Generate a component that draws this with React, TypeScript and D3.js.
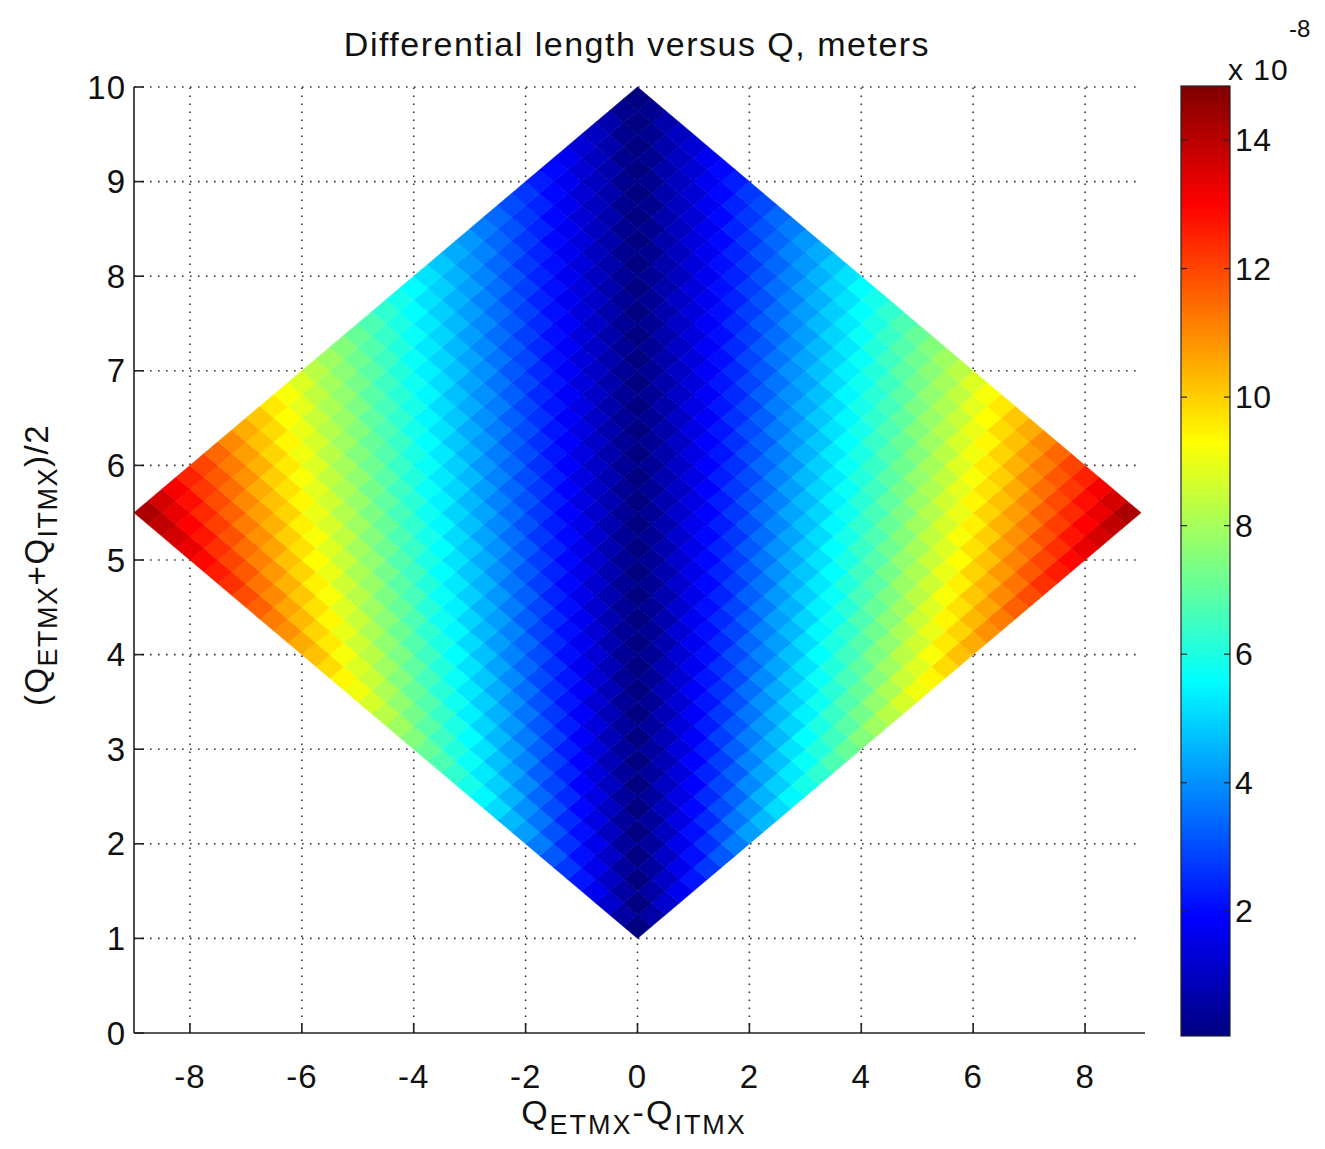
import * as d3 from "d3";

// Q grid edges (same for ETMX and ITMX), step 0.25 from 1 to 10
const qEdges = d3.range(0, 37).map(k => 1 + k * 0.25);

// differential length (x 1e-8 m), upper triangle: row = Q_ETMX cell i, entries = Q_ITMX cells j >= i
// (the map is symmetric in ETMX <-> ITMX, so the other half is the mirror)
const diffLengthUpper = [
  [0, 0.6, 1.2, 1.7, 2.2, 2.7, 3.2, 3.7, 4.2, 4.6, 5.1, 5.5, 5.9, 6.3, 6.7, 7.1, 7.5, 7.9, 8.3, 8.7, 9.1, 9.4, 9.8, 10.2, 10.5, 10.9, 11.2, 11.6, 11.9, 12.3, 12.6, 12.9, 13.3, 13.6, 13.9, 14.2],
  [0, 0.6, 1.1, 1.6, 2.1, 2.6, 3.1, 3.6, 4.0, 4.5, 4.9, 5.3, 5.7, 6.1, 6.5, 6.9, 7.3, 7.7, 8.1, 8.5, 8.8, 9.2, 9.6, 9.9, 10.3, 10.6, 11.0, 11.3, 11.7, 12.0, 12.3, 12.7, 13.0, 13.3, 13.6],
  [0, 0.5, 1.1, 1.6, 2.1, 2.5, 3.0, 3.4, 3.9, 4.3, 4.7, 5.2, 5.6, 6.0, 6.4, 6.8, 7.1, 7.5, 7.9, 8.3, 8.6, 9.0, 9.4, 9.7, 10.1, 10.4, 10.8, 11.1, 11.4, 11.8, 12.1, 12.4, 12.8, 13.1],
  [0, 0.5, 1.0, 1.5, 2.0, 2.5, 2.9, 3.3, 3.8, 4.2, 4.6, 5.0, 5.4, 5.8, 6.2, 6.6, 7.0, 7.4, 7.7, 8.1, 8.5, 8.8, 9.2, 9.5, 9.9, 10.2, 10.6, 10.9, 11.2, 11.6, 11.9, 12.2, 12.5],
  [0, 0.5, 1.0, 1.5, 1.9, 2.4, 2.8, 3.3, 3.7, 4.1, 4.5, 4.9, 5.3, 5.7, 6.1, 6.5, 6.8, 7.2, 7.6, 7.9, 8.3, 8.6, 9.0, 9.3, 9.7, 10.0, 10.4, 10.7, 11.0, 11.4, 11.7, 12.0],
  [0, 0.5, 1.0, 1.4, 1.9, 2.3, 2.8, 3.2, 3.6, 4.0, 4.4, 4.8, 5.2, 5.6, 6.0, 6.3, 6.7, 7.1, 7.4, 7.8, 8.1, 8.5, 8.8, 9.2, 9.5, 9.9, 10.2, 10.5, 10.9, 11.2, 11.5],
  [0, 0.5, 0.9, 1.4, 1.8, 2.3, 2.7, 3.1, 3.5, 3.9, 4.3, 4.7, 5.1, 5.5, 5.8, 6.2, 6.6, 6.9, 7.3, 7.7, 8.0, 8.4, 8.7, 9.0, 9.4, 9.7, 10.0, 10.4, 10.7, 11.0],
  [0, 0.5, 0.9, 1.4, 1.8, 2.2, 2.6, 3.0, 3.4, 3.8, 4.2, 4.6, 5.0, 5.4, 5.7, 6.1, 6.5, 6.8, 7.2, 7.5, 7.9, 8.2, 8.6, 8.9, 9.2, 9.6, 9.9, 10.2, 10.5],
  [0, 0.5, 0.9, 1.3, 1.8, 2.2, 2.6, 3.0, 3.4, 3.8, 4.2, 4.5, 4.9, 5.3, 5.6, 6.0, 6.4, 6.7, 7.1, 7.4, 7.8, 8.1, 8.4, 8.8, 9.1, 9.4, 9.8, 10.1],
  [0, 0.4, 0.9, 1.3, 1.7, 2.1, 2.5, 2.9, 3.3, 3.7, 4.1, 4.5, 4.8, 5.2, 5.6, 5.9, 6.3, 6.6, 7.0, 7.3, 7.7, 8.0, 8.3, 8.7, 9.0, 9.3, 9.6],
  [0, 0.4, 0.9, 1.3, 1.7, 2.1, 2.5, 2.9, 3.3, 3.6, 4.0, 4.4, 4.8, 5.1, 5.5, 5.8, 6.2, 6.5, 6.9, 7.2, 7.5, 7.9, 8.2, 8.5, 8.9, 9.2],
  [0, 0.4, 0.8, 1.3, 1.7, 2.1, 2.4, 2.8, 3.2, 3.6, 4.0, 4.3, 4.7, 5.0, 5.4, 5.7, 6.1, 6.4, 6.8, 7.1, 7.5, 7.8, 8.1, 8.4, 8.8],
  [0, 0.4, 0.8, 1.2, 1.6, 2.0, 2.4, 2.8, 3.2, 3.5, 3.9, 4.3, 4.6, 5.0, 5.3, 5.7, 6.0, 6.4, 6.7, 7.0, 7.4, 7.7, 8.0, 8.3],
  [0, 0.4, 0.8, 1.2, 1.6, 2.0, 2.4, 2.7, 3.1, 3.5, 3.8, 4.2, 4.6, 4.9, 5.3, 5.6, 5.9, 6.3, 6.6, 6.9, 7.3, 7.6, 7.9],
  [0, 0.4, 0.8, 1.2, 1.6, 2.0, 2.3, 2.7, 3.1, 3.4, 3.8, 4.1, 4.5, 4.8, 5.2, 5.5, 5.9, 6.2, 6.5, 6.9, 7.2, 7.5],
  [0, 0.4, 0.8, 1.2, 1.6, 1.9, 2.3, 2.7, 3.0, 3.4, 3.7, 4.1, 4.4, 4.8, 5.1, 5.5, 5.8, 6.1, 6.5, 6.8, 7.1],
  [0, 0.4, 0.8, 1.2, 1.5, 1.9, 2.3, 2.6, 3.0, 3.3, 3.7, 4.0, 4.4, 4.7, 5.1, 5.4, 5.7, 6.1, 6.4, 6.7],
  [0, 0.4, 0.8, 1.1, 1.5, 1.9, 2.2, 2.6, 3.0, 3.3, 3.7, 4.0, 4.3, 4.7, 5.0, 5.3, 5.7, 6.0, 6.3],
  [0, 0.4, 0.8, 1.1, 1.5, 1.9, 2.2, 2.6, 2.9, 3.3, 3.6, 4.0, 4.3, 4.6, 5.0, 5.3, 5.6, 5.9],
  [0, 0.4, 0.7, 1.1, 1.5, 1.8, 2.2, 2.5, 2.9, 3.2, 3.6, 3.9, 4.2, 4.6, 4.9, 5.2, 5.6],
  [0, 0.4, 0.7, 1.1, 1.5, 1.8, 2.2, 2.5, 2.9, 3.2, 3.5, 3.9, 4.2, 4.5, 4.9, 5.2],
  [0, 0.4, 0.7, 1.1, 1.4, 1.8, 2.1, 2.5, 2.8, 3.2, 3.5, 3.8, 4.2, 4.5, 4.8],
  [0, 0.4, 0.7, 1.1, 1.4, 1.8, 2.1, 2.5, 2.8, 3.1, 3.5, 3.8, 4.1, 4.4],
  [0, 0.4, 0.7, 1.1, 1.4, 1.8, 2.1, 2.4, 2.8, 3.1, 3.4, 3.8, 4.1],
  [0, 0.4, 0.7, 1.1, 1.4, 1.7, 2.1, 2.4, 2.7, 3.1, 3.4, 3.7],
  [0, 0.4, 0.7, 1.1, 1.4, 1.7, 2.1, 2.4, 2.7, 3.1, 3.4],
  [0, 0.4, 0.7, 1.0, 1.4, 1.7, 2.0, 2.4, 2.7, 3.0],
  [0, 0.4, 0.7, 1.0, 1.4, 1.7, 2.0, 2.4, 2.7],
  [0, 0.3, 0.7, 1.0, 1.3, 1.7, 2.0, 2.3],
  [0, 0.3, 0.7, 1.0, 1.3, 1.7, 2.0],
  [0, 0.3, 0.7, 1.0, 1.3, 1.7],
  [0, 0.3, 0.7, 1.0, 1.3],
  [0, 0.3, 0.7, 1.0],
  [0, 0.3, 0.7],
  [0, 0.3],
  [0],
];

const colorLimits = [0.06, 14.84];
const xTicks = [-8, -6, -4, -2, 0, 2, 4, 6, 8];
const yTicks = [0, 1, 2, 3, 4, 5, 6, 7, 8, 9, 10];
const cbTicks = [2, 4, 6, 8, 10, 12, 14];

const font = "'Liberation Sans', Arial, Helvetica, sans-serif";

// matlab style jet colormap
const jet = (t: number) => {
  const c = (v: number) => Math.max(0, Math.min(1, v));
  const tt = c(t);
  const r = c(1.5 - Math.abs(4 * tt - 3));
  const g = c(1.5 - Math.abs(4 * tt - 2));
  const b = c(1.5 - Math.abs(4 * tt - 1));
  return d3.rgb(r * 255, g * 255, b * 255).formatHex();
};

const App = () => {
  const x = d3.scaleLinear().domain([-9, 9]).range([134, 1141]);
  const y = d3.scaleLinear().domain([0, 10]).range([1033, 87]);
  const cb = d3.scaleLinear().domain(colorLimits).range([1036, 86]);
  const norm = d3.scaleLinear().domain(colorLimits).range([0, 1]);

  // each (ETMX, ITMX) cell maps to a rotated square in (difference, mean) space
  const cellPath = (i: number, j: number) => {
    const e0 = qEdges[i], e1 = qEdges[i + 1];
    const i0 = qEdges[j], i1 = qEdges[j + 1];
    const pts = [[e0, i0], [e1, i0], [e1, i1], [e0, i1]]
      .map(([e, q]) => [x(e - q), y((e + q) / 2)]);
    return "M" + pts.map(p => p.join(",")).join("L") + "Z";
  };
  const cells: { d: string; fill: string }[] = [];
  diffLengthUpper.forEach((row, i) => {
    row.forEach((v, k) => {
      const j = i + k;
      const fill = jet(norm(v));
      cells.push({ d: cellPath(i, j), fill });
      if (j !== i) cells.push({ d: cellPath(j, i), fill });
    });
  });

  const stops = d3.range(0, 65).map(k => k / 64);

  return (
    <svg width={1325} height={1149} style={{ position: "absolute", left: 0, top: 0, background: "#fff" }}
      fontFamily={font}>
      <defs>
        <linearGradient id="jetbar" x1="0" y1="1" x2="0" y2="0">
          {stops.map(s => <stop key={s} offset={s} stopColor={jet(s)} />)}
        </linearGradient>
      </defs>

      {/* dotted grid (under the surface) */}
      <g stroke="#333" strokeWidth={1.6} strokeDasharray="1.6,6.4">
        {xTicks.map(t => <line key={"gx" + t} x1={x(t)} x2={x(t)} y1={y(0)} y2={y(10)} />)}
        {yTicks.filter(t => t > 0).map(t => <line key={"gy" + t} x1={x(-9)} x2={x(9)} y1={y(t)} y2={y(t)} />)}
      </g>

      {/* surface */}
      <g>
        {cells.map((c, k) => <path key={k} d={c.d} fill={c.fill} stroke={c.fill} strokeWidth={0.6} />)}
      </g>

      {/* axes */}
      <g stroke="#222" strokeWidth={1.6} fill="none">
        <line x1={x(-9)} x2={1145} y1={y(0)} y2={y(0)} />
        <line x1={x(-9)} x2={x(-9)} y1={y(0)} y2={y(10)} />
        {xTicks.map(t => <line key={"tx" + t} x1={x(t)} x2={x(t)} y1={y(0)} y2={y(0) - 10} />)}
        {yTicks.map(t => <line key={"ty" + t} x1={x(-9)} x2={x(-9) + 10} y1={y(t)} y2={y(t)} />)}
      </g>
      <g fontSize={33} fill="#111" letterSpacing={1}>
        {xTicks.map(t => (
          <text key={"lx" + t} x={x(t)} y={1088} textAnchor="middle">{t < 0 ? "-" + Math.abs(t) : t}</text>
        ))}
        {yTicks.map(t => (
          <text key={"ly" + t} x={126} y={y(t)} textAnchor="end" dominantBaseline="central">{t}</text>
        ))}
      </g>

      {/* title */}
      <text x={637} y={56} textAnchor="middle" fontSize={34} letterSpacing={1.5} fill="#111">
        Differential length versus Q, meters
      </text>

      {/* x label */}
      <text x={634} y={1124} textAnchor="middle" fontSize={34} letterSpacing={2} fill="#111">
        Q<tspan dy={10} fontSize={27}>ETMX</tspan><tspan dy={-10}>-Q</tspan><tspan dy={10} fontSize={27}>ITMX</tspan>
      </text>

      {/* y label */}
      <text transform={`translate(${48},${565}) rotate(-90)`} textAnchor="middle" fontSize={33} letterSpacing={1.5} fill="#111">
        (Q<tspan dy={9} fontSize={27}>ETMX</tspan><tspan dy={-9}>+Q</tspan><tspan dy={9} fontSize={27}>ITMX</tspan><tspan dy={-9}>)/2</tspan>
      </text>

      {/* colorbar */}
      <rect x={1181} y={cb(colorLimits[1])} width={49} height={cb(colorLimits[0]) - cb(colorLimits[1])}
        fill="url(#jetbar)" stroke="#222" strokeWidth={1.2} />
      <g stroke="#222" strokeWidth={1.2}>
        {cbTicks.map(t => (
          <g key={"cbt" + t}>
            <line x1={1181} x2={1187} y1={cb(t)} y2={cb(t)} />
            <line x1={1224} x2={1230} y1={cb(t)} y2={cb(t)} />
          </g>
        ))}
      </g>
      <g fontSize={32} fill="#111" letterSpacing={0.5}>
        {cbTicks.map(t => (
          <text key={"cbl" + t} x={1235} y={cb(t)} dominantBaseline="central">{t}</text>
        ))}
      </g>
      <text x={1228} y={80} fontSize={30} letterSpacing={1} fill="#111">x 10</text>
      <text x={1289} y={37} fontSize={24} fill="#111">-8</text>
    </svg>
  );
};

export default App;
